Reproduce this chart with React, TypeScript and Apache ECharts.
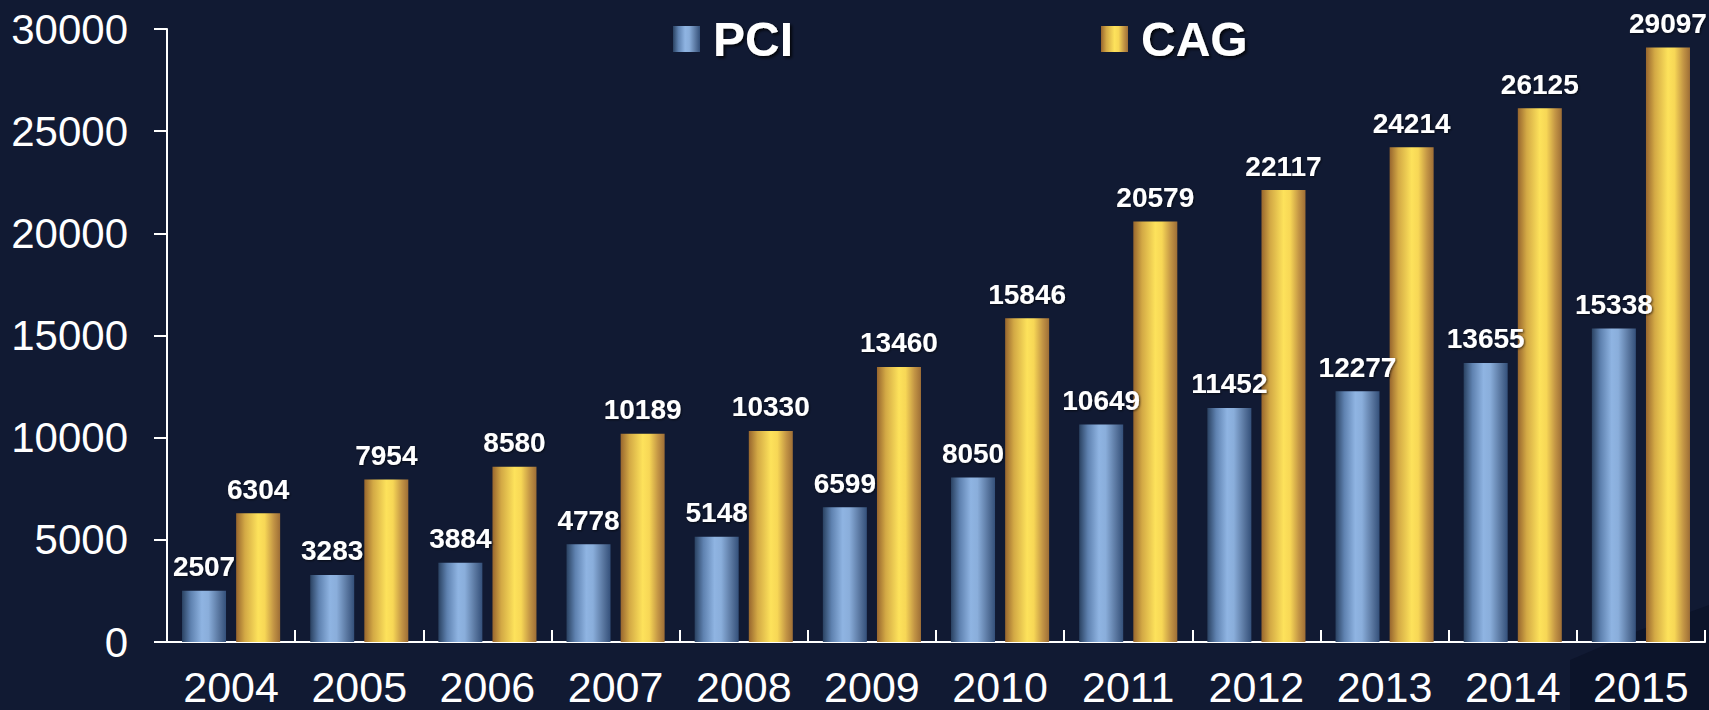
import React, { useEffect, useRef } from "react";
import * as echarts from "echarts";

const years = ["2004", "2005", "2006", "2007", "2008", "2009", "2010", "2011", "2012", "2013", "2014", "2015"];
const pciValues = [2507, 3283, 3884, 4778, 5148, 6599, 8050, 10649, 11452, 12277, 13655, 15338];
const cagValues = [6304, 7954, 8580, 10189, 10330, 13460, 15846, 20579, 22117, 24214, 26125, 29097];
const seriesNames = ["PCI", "CAG"];

const pciGradient = new echarts.graphic.LinearGradient(0, 0, 1, 0, [
  { offset: 0, color: "#2a4262" },
  { offset: 0.2, color: "#5f82b0" },
  { offset: 0.45, color: "#8fb4e2" },
  { offset: 0.6, color: "#8aaedb" },
  { offset: 0.85, color: "#56739c" },
  { offset: 1, color: "#34507a" },
]);
const cagGradient = new echarts.graphic.LinearGradient(0, 0, 1, 0, [
  { offset: 0, color: "#98662e" },
  { offset: 0.2, color: "#d3a945" },
  { offset: 0.5, color: "#fde25b" },
  { offset: 0.65, color: "#f7d756" },
  { offset: 0.85, color: "#c39545" },
  { offset: 1, color: "#9e6e36" },
]);

export default function App() {
  const ref = useRef<HTMLDivElement>(null);
  useEffect(() => {
    if (!ref.current) return;
    const chart = echarts.init(ref.current, undefined, { renderer: "svg" });
    const labelStyle = {
      show: true,
      position: "top" as const,
      distance: 10,
      color: "#ffffff",
      fontSize: 28,
      fontWeight: "bold" as const,
      fontFamily: "Liberation Sans, Arial, sans-serif",
      textShadowColor: "rgba(0,0,0,0.6)",
      textShadowBlur: 2,
      textShadowOffsetX: 1,
      textShadowOffsetY: 1,
    };
    chart.setOption({
      animation: false,
      backgroundColor: "#111a33",
      graphic: [
        {
          type: "polygon",
          z: -10,
          silent: true,
          shape: { points: [[1570, 660], [1640, 630], [1709, 605], [1709, 710], [1570, 710]] },
          style: { fill: "rgba(4,6,22,0.3)" },
        },
      ],
      legend: {
        data: seriesNames,
        left: 673,
        top: 15,
        padding: 0,
        itemWidth: 27,
        itemHeight: 26,
        itemGap: 308,
        icon: "rect",
        textStyle: {
          color: "#ffffff",
          fontSize: 48,
          fontWeight: "bold",
          fontFamily: "Liberation Sans, Arial, sans-serif",
          textShadowColor: "rgba(0,0,0,0.8)",
          textShadowBlur: 3,
          textShadowOffsetX: 2,
          textShadowOffsetY: 2,
          padding: [0, 0, 0, 8],
        },
      },
      grid: { left: 167, right: 4, top: 29, bottom: 68, containLabel: false },
      xAxis: {
        type: "category",
        data: years,
        axisLine: { lineStyle: { color: "#ffffff", width: 2 } },
        axisTick: { show: true, inside: true, length: 12, lineStyle: { color: "#ffffff", width: 2 } },
        axisLabel: {
          color: "#ffffff",
          fontSize: 43,
          lineHeight: 43,
          fontFamily: "Liberation Sans, Arial, sans-serif",
          margin: 23,
          interval: 0,
        },
      },
      yAxis: {
        type: "value",
        min: 0,
        max: 30000,
        interval: 5000,
        splitLine: { show: false },
        axisLine: { show: true, lineStyle: { color: "#ffffff", width: 2 } },
        axisTick: { show: true, length: 13, lineStyle: { color: "#ffffff", width: 2 } },
        axisLabel: {
          color: "#ffffff",
          fontSize: 42,
          fontFamily: "Liberation Sans, Arial, sans-serif",
          margin: 39,
          formatter: (v: number) => String(v),
        },
      },
      series: [
        {
          name: seriesNames[0],
          type: "bar",
          data: pciValues,
          barWidth: 44,
          barGap: "23%",
          itemStyle: { color: pciGradient },
          label: labelStyle,
        },
        {
          name: seriesNames[1],
          type: "bar",
          data: cagValues,
          barWidth: 44,
          barGap: "23%",
          itemStyle: { color: cagGradient },
          label: labelStyle,
        },
      ],
    });
    return () => chart.dispose();
  }, []);
  return <div ref={ref} style={{ width: 1709, height: 710, position: "absolute", left: 0, top: 0 }} />;
}
